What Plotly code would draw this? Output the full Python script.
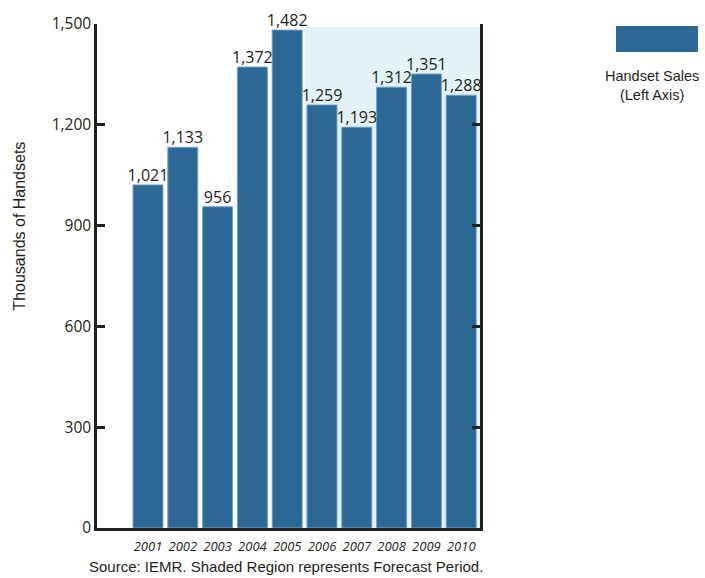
import plotly.graph_objects as go

years = ["2001", "2002", "2003", "2004", "2005", "2006", "2007", "2008", "2009", "2010"]
sales = [1021, 1133, 956, 1372, 1482, 1259, 1193, 1312, 1351, 1288]
y_ticks = [0, 300, 600, 900, 1200, 1500]
y_tick_labels = ["0", "300", "600", "900", "1,200", "1,500"]
forecast_start = 4.5
shade_top = 1490

BAR = "#2b6895"
SHADE = "#e3f3f7"
INK = "#231f20"
NUM_FONT = "Open Sans"
TXT_FONT = "Liberation Sans Narrow, Liberation Sans, Arial"

x_idx = list(range(len(years)))

fig = go.Figure()
fig.add_trace(go.Bar(
    x=x_idx, y=sales, width=0.86,
    marker=dict(color=BAR, line=dict(color="#6f9fc2", width=1)),
    showlegend=False, hoverinfo="skip",
))
fig.add_trace(go.Scatter(
    x=x_idx, y=sales, mode="text",
    text=[f"{v:,}" for v in sales], textposition="top center",
    textfont=dict(family=NUM_FONT, size=16, color=INK),
    cliponaxis=False, showlegend=False, hoverinfo="skip",
))

fig.add_shape(type="rect", xref="x", yref="y", x0=forecast_start, x1=9.66,
              y0=0, y1=shade_top, fillcolor=SHADE, line_width=0, layer="below")

fig.update_layout(
    width=705, height=578,
    margin=dict(l=97, r=225, t=24, b=50),
    plot_bgcolor="white", paper_bgcolor="white",
    xaxis=dict(range=[-1.465, 9.54], tickmode="array", tickvals=x_idx, ticktext=years,
               showline=True, linecolor=INK, linewidth=3, ticks="", showgrid=False,
               zeroline=False, ticklabelstandoff=4,
               tickfont=dict(family=NUM_FONT, size=13, color=INK, style="italic")),
    yaxis=dict(range=[0, 1500], tickmode="array", tickvals=y_ticks, ticktext=y_tick_labels,
               showline=True, linecolor=INK, linewidth=2.5, mirror="ticks",
               ticks="inside", ticklen=8, tickwidth=2.5, tickcolor=INK,
               showgrid=False, zeroline=False,
               tickfont=dict(family=NUM_FONT, size=15.5, color=INK)),
    font=dict(family=NUM_FONT, color=INK),
)

fig.add_annotation(text="Thousands of Handsets", xref="paper", yref="paper",
                   x=-0.201, y=0.598, xanchor="center", yanchor="middle",
                   textangle=-90, showarrow=False,
                   font=dict(family=TXT_FONT, size=16, color=INK))
fig.add_annotation(text="Source: IEMR. Shaded Region represents Forecast Period.",
                   xref="paper", yref="paper", x=0.493, y=-0.077,
                   xanchor="center", yanchor="middle",
                   showarrow=False, font=dict(family=TXT_FONT, size=15, color=INK))

# legend
fig.add_shape(type="rect", xref="paper", yref="paper", x0=1.355, x1=1.569,
              y0=(528 - 52) / 504, y1=(528 - 26) / 504, fillcolor=BAR, line_width=0)
fig.add_annotation(text="Handset Sales<br>(Left Axis)", xref="paper", yref="paper",
                   x=(652 - 97) / 383, y=(528 - 85) / 504,
                   xanchor="center", yanchor="middle",
                   showarrow=False, align="center",
                   font=dict(family=TXT_FONT, size=14.5, color=INK))

fig.write_html("out.html")
